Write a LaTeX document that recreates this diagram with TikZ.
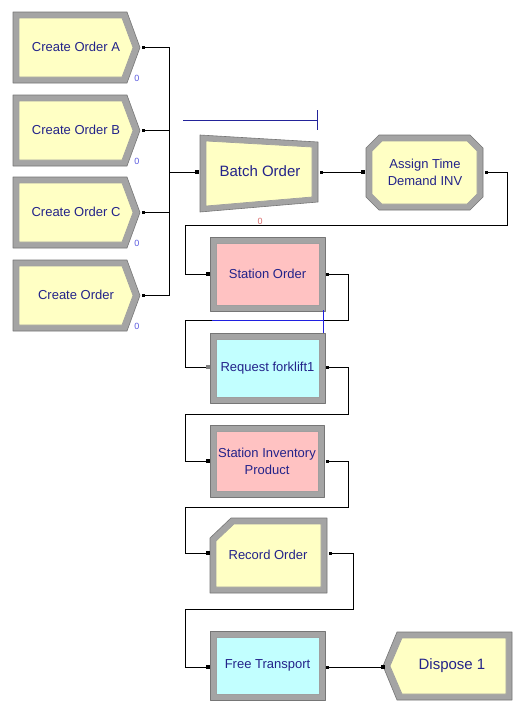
\documentclass[tikz,border=0pt]{standalone}
\usepackage{fontspec}
\setmainfont{Liberation Sans}
\usetikzlibrary{positioning, calc}
\definecolor{armink}{HTML}{23238A}
\definecolor{armyellow}{HTML}{FFFFC4}
\definecolor{armpink}{HTML}{FFC2C2}
\definecolor{armcyan}{HTML}{C2FFFF}
\definecolor{armrim}{HTML}{A4A4A4}
\definecolor{armedge}{HTML}{767676}
\definecolor{armroute}{HTML}{1F1FE0}
\definecolor{armqueue}{HTML}{23239A}
\definecolor{armcountb}{HTML}{5A5AE0}
\definecolor{armcountr}{HTML}{D86A6A}
\tikzset{
  armframe/.style = {fill=armrim, draw=armedge, line width=0.6pt, line join=round},
  armface/.style  = {draw=armedge!70, line width=0.7pt},
  armtext/.style  = {font=\fontsize{13}{17}\selectfont, text=armink, align=center, inner sep=0pt},
  armbig/.style   = {armtext, font=\fontsize{15}{18}\selectfont},
  armcount/.style = {font=\fontsize{9}{9}\selectfont, inner sep=0pt},
  armlink/.style  = {draw=black, line width=0.9pt},
  armin/.style    = {rectangle, fill=black, inner sep=0pt, minimum width=4pt, minimum height=4.5pt},
  armout/.style   = {rectangle, fill=black, inner sep=0pt, minimum size=3pt},
  armstn/.style   = {draw=armroute, line width=1pt},
  armline/.style  = {draw=armqueue, line width=1pt},
}
\newcommand{\armcreate}[3]{%
  \filldraw[armframe] (13,#2) -- (127,#2) -- (140,{#2+35.5}) -- (127,{#2+71}) -- (13,{#2+71}) -- cycle;
  \filldraw[armface, fill=armyellow] (19,{#2+6}) -- (122,{#2+6}) -- (133,{#2+35.5}) -- (122,{#2+65}) -- (19,{#2+65}) -- cycle;
  \node[armtext] (#1) at (76,{#2+35}) {#3};
  \node[armcount, text=armcountb] at (137,{#2+66}) {0};}
\newcommand{\armrect}[7]{%
  \filldraw[armframe] (#2,#3) rectangle (#4,#5);
  \filldraw[armface, fill=#6] ({#2+6},{#3+6}) rectangle ({#4-6},{#5-6});
  \node[armtext] (#1) at ({(#2+#4)/2},{(#3+#5)/2}) {#7};}

\begin{document}
\begin{tikzpicture}[x=1pt, y=-1pt]
\useasboundingbox[fill=white] (0,0) rectangle (513,702);

\armcreate{ca}{12}{Create Order A}
\armcreate{cb}{95}{Create Order B}
\armcreate{cc}{177}{Create Order C}
\armcreate{cd}{260}{Create Order}

\filldraw[armframe] (200,135) -- (318,142) -- (318,202) -- (200,212) -- cycle;
\filldraw[armface, fill=armyellow] (206,141) -- (312,147) -- (312,197) -- (206,206) -- cycle;
\node[armbig] (bo) at (260,171) {Batch Order};
\draw[armline] (183,120) -- (317,120);
\draw[armline] (317,110) -- (317,130);
\node[armcount, text=armcountr] (boq) at (260,221) {0};

\filldraw[armframe] (379,135) -- (470,135) -- (483,148) -- (483,197) -- (470,210) -- (379,210) -- (366,197) -- (366,148) -- cycle;
\filldraw[armface, fill=armyellow] (382,141) -- (467,141) -- (477,151) -- (477,194) -- (467,204) -- (382,204) -- (372,194) -- (372,151) -- cycle;
\node[armtext] (ad) at (425,172) {Assign Time\\Demand INV};

\armrect{so}{210}{237}{325}{311}{armpink}{Station Order}
\armrect{rf}{210}{333}{325}{403}{armcyan}{Request forklift1}
\armrect{si}{210}{425}{324}{497}{armpink}{Station Inventory\\Product}

\filldraw[armframe] (210,538) -- (231,518) -- (327,518) -- (327,593) -- (210,593) -- cycle;
\filldraw[armface, fill=armyellow] (216,541) -- (234,524) -- (321,524) -- (321,587) -- (216,587) -- cycle;
\node[armtext] (ro) at (268,555) {Record Order};

\armrect{ft}{210}{631}{325}{700}{armcyan}{Free Transport}

\filldraw[armframe] (397,632) -- (512,632) -- (512,700) -- (397,700) -- (383,666) -- cycle;
\filldraw[armface, fill=armyellow] (402,638) -- (506,638) -- (506,694) -- (402,694) -- (390,666) -- cycle;
\node[armbig] (dp) at (452,666) {Dispose 1};

\node[armout] (ca-out) at (143,47.5) {};
\node[armout] (cb-out) at (143,130) {};
\node[armout] (cc-out) at (143,212) {};
\node[armout] (cd-out) at (143,295) {};
\coordinate (join) at (169.5,172);
\node[armin]  (bo-in)  at (197,172) {};
\node[armout] (bo-out) at (321,172) {};
\node[armin]  (ad-in)  at (363,172) {};
\node[armout] (ad-out) at (486,172) {};
\node[armin]  (so-in)  at (208,274) {};
\node[armout] (so-out) at (327,274) {};
\node[armin, fill=gray] (rf-in) at (208,367) {};
\node[armout] (rf-out) at (327,367) {};
\node[armin]  (si-in)  at (208,461) {};
\node[armout] (si-out) at (327,461) {};
\node[armin]  (ro-in)  at (208,553) {};
\node[armout] (ro-out) at (330,553) {};
\node[armin]  (ft-in)  at (208,667) {};
\node[armout] (ft-out) at (327,667) {};
\node[armin]  (dp-in)  at (383,667) {};

\coordinate (bend1) at (185,225);
\coordinate (bend2) at (185,320);
\coordinate (bend3) at (185,414);
\coordinate (bend4) at (185,507);
\coordinate (bend5) at (185,609);

\draw[armlink] (ca-out) -| (join) -- (bo-in);
\draw[armlink] (cb-out) -| (join);
\draw[armlink] (cc-out) -| (join);
\draw[armlink] (cd-out) -| (join);
\draw[armlink] (bo-out) -- (ad-in);
\draw[armlink] (ad-out) -- ++(21,0) |- (bend1) |- (so-in);
\draw[armlink] (so-out) -- ++(21,0) |- (bend2) |- (rf-in);
\draw[armlink] (rf-out) -- ++(21,0) |- (bend3) |- (si-in);
\draw[armlink] (si-out) -- ++(21,0) |- (bend4) |- (ro-in);
\draw[armlink] (ro-out) -- ++(23,0) |- (bend5) |- (ft-in);
\draw[armlink] (ft-out) -- (dp-in);

\draw[armstn] (212,320) -- (323,320);
\draw[armstn] (323,310) -- (323,333);
\end{tikzpicture}
\end{document}
